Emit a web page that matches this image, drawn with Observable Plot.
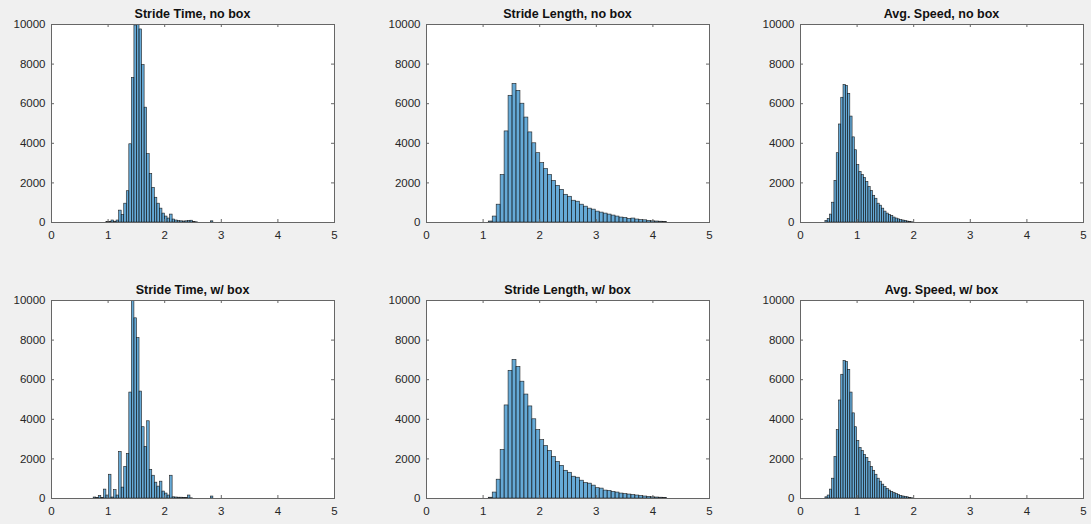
<!DOCTYPE html>
<html>
<head>
<meta charset="utf-8">
<script src="https://cdn.jsdelivr.net/npm/d3@7"></script>
<script src="https://cdn.jsdelivr.net/npm/@observablehq/plot@0.6"></script>
<style>
  body { margin: 0; background: #f0f0f0; }
  #root { position: relative; width: 1091px; height: 524px; background: #f0f0f0; overflow: hidden; }
  .panel { position: absolute; }
  .ttl { position: absolute; font: bold 12.5px "Liberation Sans", Arial, sans-serif; color: #111; text-align: center; white-space: nowrap; }
</style>
</head>
<body>
<div id="root"></div>
<script>
// ---------- data ----------
const xTicks = [0, 1, 2, 3, 4, 5];
const yTicks = [0, 2000, 4000, 6000, 8000, 10000];

const titles = [
  "Stride Time, no box", "Stride Length, no box", "Avg. Speed, no box",
  "Stride Time, w/ box", "Stride Length, w/ box", "Avg. Speed, w/ box"
];

// Stride time: bins of width 0.045 starting at 0.25
const strideTimeStart = 0.25, strideTimeWidth = 0.045;
const strideTimeNoBox = [
  0,0,0,0,0,0,0,0,0,0,0,0,0,0,0,0,
  20,30,100,40,100,600,380,950,1580,3950,7300,9950,10300,9750,7950,5800,3450,2450,1750,1250,
  950,700,450,300,200,400,150,100,70,60,50,60,80,90,20,10,
  0,0,0,0,0,60,
  0,0,0,0,0,0,0,0,0,0,0,0,0,0,0,0,0,0,0,0,0,0,0,0,0,0,0,0,0,0,0,0
];
const strideTimeBox = [
  0,0,0,0,0,0,0,0,0,0,0,
  50,20,120,30,450,150,1200,50,420,150,2350,550,1600,2250,5350,10500,9100,8100,5400,3600,
  2600,3900,1450,1150,800,600,850,350,250,150,1150,60,50,40,40,30,30,150,10,
  0,0,0,0,0,0,0,100,
  0,0,0,0,0,0,0,0,0,0,0,0,0,0,0,0,0,0,0,0,0,0,0,0,0,0,0,0,0,0,0,0
];

// Stride length: bins of width 0.07 starting at 0.33
const strideLenStart = 0.33, strideLenWidth = 0.07;
const strideLenNoBox = [
  0,0,0,0,0,0,0,0,0,0,0,
  50,300,900,2400,4600,6400,7000,6650,6000,5300,4550,4000,3500,3000,2700,2400,2100,1850,1650,1400,
  1300,1100,1050,900,800,700,650,550,500,450,400,350,300,250,230,180,200,150,120,110,80,60,50,40,20
];
const strideLenBox = [
  0,0,0,0,0,0,0,0,0,0,0,
  40,300,950,2450,4700,6450,7000,6650,5900,5250,4650,4000,3450,2950,2650,2400,2100,1850,1650,1400,
  1300,1100,1050,900,780,750,650,520,500,400,380,330,300,250,220,200,170,150,120,100,80,60,50,40,30
];

// Avg. speed: bins of width 0.04 starting at 0.28
const speedStart = 0.28, speedWidth = 0.04;
const speedNoBox = [
  0,0,0,0,
  80,180,400,1000,2100,3500,4950,6300,6950,6900,6500,5350,4300,3650,2900,2550,2400,2250,2050,1800,
  1600,1350,1200,950,850,700,550,450,380,330,250,200,160,120,100,80,50,30,10
];
const speedBox = [
  0,0,0,0,
  60,150,450,1000,2100,3450,4950,6250,6950,6900,6500,5350,4300,3600,2900,2550,2400,2200,2050,1850,
  1600,1400,1200,1000,850,700,580,480,400,330,270,220,170,130,100,80,60,30,10
];

// ---------- layout ----------
const panels = [
  {counts: strideTimeNoBox, start: strideTimeStart, width: strideTimeWidth, left: 51,  top: 24},
  {counts: strideLenNoBox,  start: strideLenStart,  width: strideLenWidth,  left: 426, top: 24},
  {counts: speedNoBox,      start: speedStart,      width: speedWidth,      left: 800, top: 24},
  {counts: strideTimeBox,   start: strideTimeStart, width: strideTimeWidth, left: 51,  top: 300},
  {counts: strideLenBox,    start: strideLenStart,  width: strideLenWidth,  left: 426, top: 300},
  {counts: speedBox,        start: speedStart,      width: speedWidth,      left: 800, top: 300}
];

const PW = 283, PH = 198;
const mL = 50, mR = 6, mT = 6, mB = 26;
const axisColor = "#666666";
const textColor = "#262626";
const root = document.getElementById("root");

panels.forEach((p, i) => {
  const bins = p.counts.map((c, k) => ({
    x1: p.start + k * p.width,
    x2: p.start + (k + 1) * p.width,
    count: c
  }));
  const lo = bins[0].x1, hi = bins[bins.length - 1].x2;

  const chart = Plot.plot({
    width: mL + PW + mR,
    height: mT + PH + mB,
    marginLeft: mL, marginRight: mR, marginTop: mT, marginBottom: mB,
    style: {background: "transparent", fontFamily: "'Liberation Sans', Arial, sans-serif", fontSize: "11.5px", color: textColor},
    x: {domain: [0, 5], label: null},
    y: {domain: [0, 10000], label: null},
    marks: [
      Plot.frame({fill: "white", stroke: "none"}),
      Plot.rect(bins, {
        x1: "x1", x2: "x2", y1: () => 0, y2: "count",
        fill: "#0072BD", fillOpacity: 0.6,
        stroke: "#1c1c1c", strokeWidth: 0.6, inset: 0, clip: true
      }),
      Plot.ruleY([0], {x1: () => lo, x2: () => hi, stroke: "#1c1c1c", strokeWidth: 1}),
      Plot.tickX(xTicks, {x: d => d, insetTop: PH - 3, stroke: axisColor}),
      Plot.tickX(xTicks, {x: d => d, insetBottom: PH - 3, stroke: axisColor}),
      Plot.tickY(yTicks, {y: d => d, insetRight: PW - 3, stroke: axisColor}),
      Plot.tickY(yTicks, {y: d => d, insetLeft: PW - 3, stroke: axisColor}),
      Plot.frame({stroke: axisColor, strokeWidth: 1}),
      Plot.axisX({ticks: xTicks, tickSize: 0, tickPadding: 8, tickFormat: d => String(d), fill: textColor, label: null}),
      Plot.axisY({ticks: yTicks, tickSize: 0, tickPadding: 6, tickFormat: d => String(d), fill: textColor, label: null})
    ]
  });
  const wrap = document.createElement("div");
  wrap.className = "panel";
  wrap.style.left = (p.left - mL) + "px";
  wrap.style.top = (p.top - mT) + "px";
  wrap.appendChild(chart);
  root.appendChild(wrap);

  const t = document.createElement("div");
  t.className = "ttl";
  t.textContent = titles[i];
  t.style.left = p.left + "px";
  t.style.width = PW + "px";
  t.style.top = (p.top - 17) + "px";
  t.style.lineHeight = "14px";
  root.appendChild(t);
});
</script>
</body>
</html>
